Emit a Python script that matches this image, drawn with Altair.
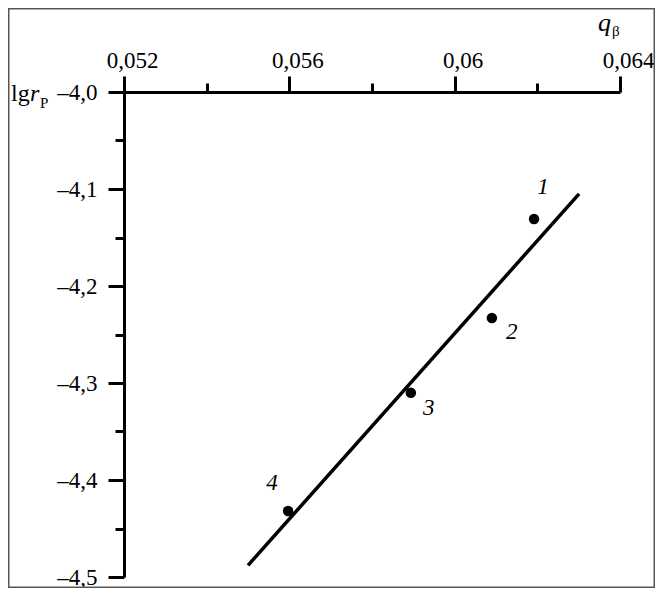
import altair as alt
import pandas as pd

# data
q_points = [0.06192, 0.06090, 0.05894, 0.05597]
lg_points = [-4.131, -4.233, -4.310, -4.432]
point_labels = ["1", "2", "3", "4"]

line_q = [0.05500, 0.06301]
line_lg = [-4.488, -4.105]

x_ticks = [0.052, 0.054, 0.056, 0.058, 0.060, 0.062, 0.064]
y_ticks = [-4.0, -4.05, -4.1, -4.15, -4.2, -4.25, -4.3, -4.35, -4.4, -4.45, -4.5]

pts = pd.DataFrame({"q": q_points, "lg": lg_points, "label": point_labels})
fit = pd.DataFrame({"q": line_q, "lg": line_lg})

FONT = "Liberation Serif"
W, H = 496, 485
PAD_L, PAD_T, PAD_R, PAD_B = 116, 84, 35, 11

xscale = alt.Scale(domain=[0.052, 0.064], nice=False, zero=False)
yscale = alt.Scale(domain=[-4.5, -4.0], nice=False, zero=False)

xaxis = alt.Axis(
    orient="top", values=x_ticks, title=None, grid=False,
    domainColor="black", domainWidth=3, tickColor="black", tickWidth=3,
    tickSize={"expr": "round(datum.value*1000) % 4 == 0 ? 16 : 9"},
    labelExpr="round(datum.value*1000) % 4 == 0 ? replace(format(datum.value, '.3~f'), '.', ',') : ''",
    labelFont=FONT, labelFontSize=23, labelColor="black", labelPadding=4,
    labelOffset=8, labelFlush=False, labelOverlap=False,
)
yaxis = alt.Axis(
    orient="left", values=y_ticks, title=None, grid=False,
    domainColor="black", domainWidth=3, tickColor="black", tickWidth=3,
    tickSize={"expr": "round(datum.value*100) % 10 == 0 ? 16 : 9"},
    labelExpr="round(datum.value*100) % 10 == 0 ? '\u2013' + replace(format(abs(datum.value), '.1f'), '.', ',') : ''",
    labelFont=FONT, labelFontSize=23, labelColor="black", labelPadding=11,
    labelFlush=False, labelOverlap=False, labelBaseline="middle",
)

base_line = alt.Chart(fit).mark_line(color="black", strokeWidth=3.5).encode(
    x=alt.X("q:Q", scale=xscale, axis=xaxis),
    y=alt.Y("lg:Q", scale=yscale, axis=yaxis),
)

points = alt.Chart(pts).mark_circle(color="black", opacity=1, size=110).encode(
    x=alt.X("q:Q", scale=xscale),
    y=alt.Y("lg:Q", scale=yscale),
)

label_offsets = {"1": (9, -32), "2": (20, 14), "3": (18, 15), "4": (-16, -28)}
label_layers = []
for lab, (dx, dy) in label_offsets.items():
    label_layers.append(
        alt.Chart(pts).transform_filter(alt.datum.label == lab).mark_text(
            font=FONT, fontSize=23, fontStyle="italic", color="black",
            align="center", baseline="middle", dx=dx, dy=dy,
        ).encode(
            x=alt.X("q:Q", scale=xscale),
            y=alt.Y("lg:Q", scale=yscale),
            text="label:N",
        )
    )

one = pd.DataFrame({"k": [0]})

def txt(s, x, y, size, style="normal"):
    return alt.Chart(one).mark_text(
        text=s, font=FONT, fontSize=size, fontStyle=style, color="black",
        align="left", baseline="alphabetic",
    ).encode(x=alt.value(x), y=alt.value(y))

titles = [
    txt("lg", -113, 9, 24),
    txt("r", -94, 9, 24, "italic"),
    txt("P", -84, 16, 15),
    txt("q", 474, -61, 26, "italic"),
    txt("\u03b2", 488, -56, 15),
]

frame = alt.Chart(one).mark_rect(fill=None, stroke="#555555", strokeWidth=1.5).encode(
    x=alt.value(-PAD_L + 0.75), x2=alt.value(W + PAD_R - 0.75),
    y=alt.value(-PAD_T + 0.75), y2=alt.value(H + PAD_B - 0.75),
)

chart = alt.layer(base_line, points, *label_layers, *titles, frame).properties(
    width=W, height=H,
    autosize=alt.AutoSizeParams(type="none"),
    padding={"left": PAD_L, "top": PAD_T, "right": PAD_R, "bottom": PAD_B},
    background="white",
).configure_view(stroke=None)

chart.save("out.html", embed_options={"renderer": "svg", "actions": False})
